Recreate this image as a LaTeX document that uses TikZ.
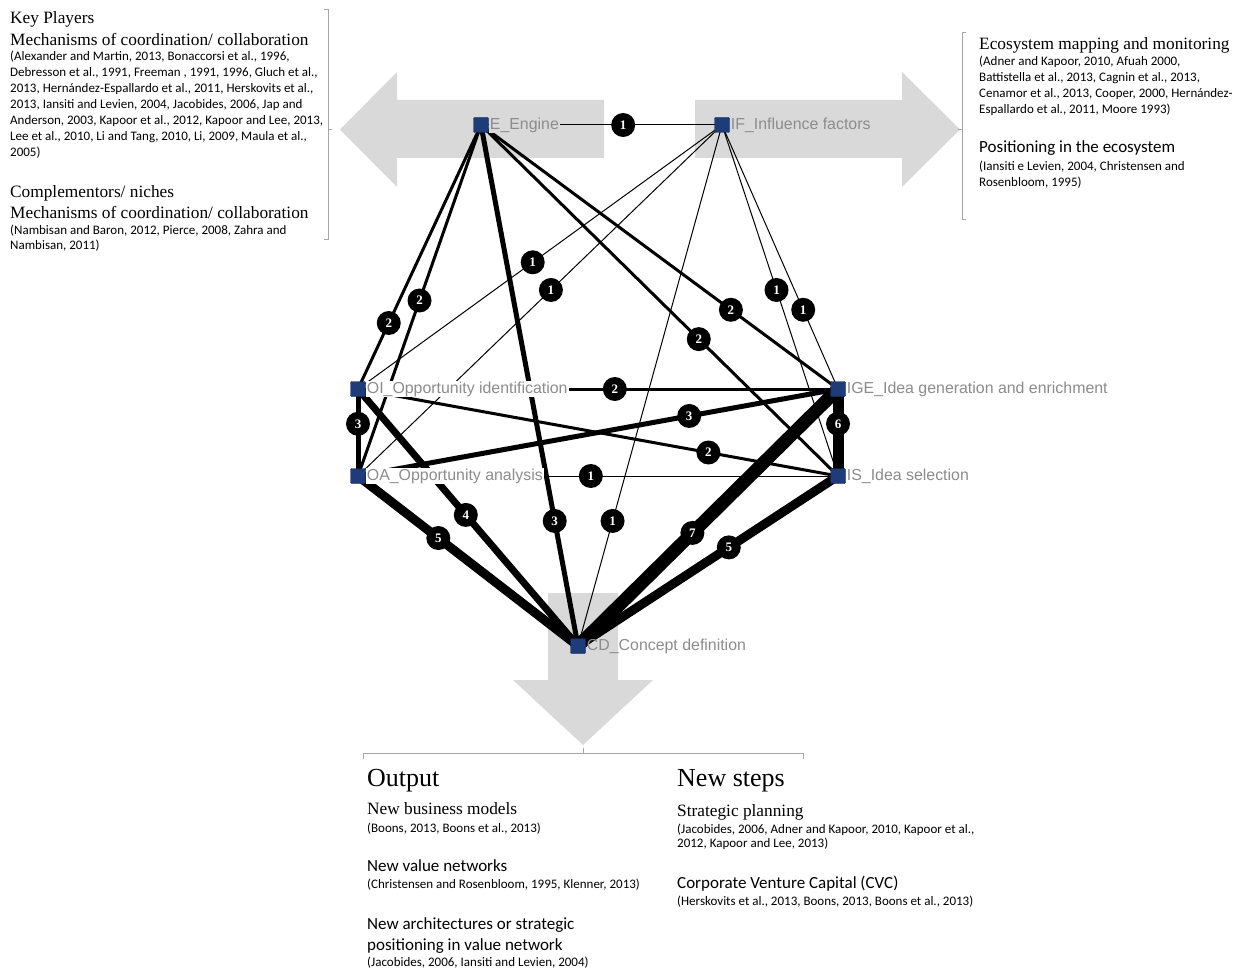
\documentclass[tikz,border=0pt]{standalone}
\usepackage{fontspec}
\setmainfont{Liberation Serif}
\newfontfamily\citefont{Carlito}
\newfontfamily\netfont{Liberation Sans}
\usetikzlibrary{positioning}
\pgfdeclarelayer{back}
\pgfsetlayers{back,main}
\definecolor{arrowgray}{HTML}{D9D9D9}
\definecolor{sqblue}{HTML}{1F3C7A}
\definecolor{labgray}{HTML}{8C8C8C}
\definecolor{brackgray}{HTML}{A6A6A6}
\begin{document}
\begin{tikzpicture}[x=1pt,y=-1pt,
    sq/.style={draw=sqblue!70!black, fill=sqblue, minimum size=15pt, inner sep=0pt, rounded corners=1pt},
    netlab/.style={anchor=west, inner sep=1pt, text=labgray, font=\netfont\fontsize{15.9}{17}\selectfont},
    wlab/.style={circle, fill=black, text=white, inner sep=0pt, minimum size=24pt, font=\bfseries\fontsize{13}{13}\selectfont},
    headserif/.style={anchor=base west, inner sep=0pt, font=\fontsize{17.3}{21}\selectfont},
    headsans/.style={anchor=base west, inner sep=0pt, font=\citefont\fontsize{17}{21}\selectfont},
    cite/.style={anchor=base west, inner sep=0pt, font=\citefont\fontsize{13}{14.5}\selectfont},
    widecite/.style={cite, font=\citefont\fontsize{13}{16}\selectfont},
    bigserif/.style={anchor=base west, inner sep=0pt, font=\fontsize{26}{30}\selectfont},
    brack/.style={draw=brackgray, line width=1pt}]
    \useasboundingbox (0,0) rectangle (1239,968);
    \begin{pgfonlayer}{back}
        \fill[arrowgray] (604,100) -- (397,100) -- (397,72) -- (340,129.5) -- (397,187) -- (397,158) -- (604,158) -- cycle;
        \fill[arrowgray] (695,100) -- (902,100) -- (902,72) -- (960,129.5) -- (902,187) -- (902,158) -- (695,158) -- cycle;
        \fill[arrowgray] (548,593) -- (618,593) -- (618,680) -- (653,680) -- (583,745) -- (513,680) -- (548,680) -- cycle;
        \draw[brack] (324,10) -- (328,10) -- (328,240) -- (324,240) (328,129.5) -- (332,129.5);
        \draw[brack] (966,33) -- (962,33) -- (962,220) -- (966,220) (962,129.5) -- (958,129.5);
        \draw[brack] (363,759) -- (363,753) -- (803,753) -- (803,759) (583,753) -- (583,748);
    \end{pgfonlayer}

    \node[sq] (E) at (481,125) {};
    \node[sq] (IF) at (722,125) {};
    \node[sq] (OI) at (358,389) {};
    \node[sq] (IGE) at (838,389) {};
    \node[sq] (OA) at (358,476) {};
    \node[sq] (IS) at (838,476) {};
    \node[sq] (CD) at (578,646) {};

    \begin{pgfonlayer}{back}
        \foreach \a/\b/\w in {E/IF/1, E/OI/2, E/OA/2, E/CD/3, E/IGE/2, E/IS/2, IF/OI/1, IF/OA/1, IF/CD/1, IF/IS/1, IF/IGE/1,
            OI/IGE/2, OI/OA/3, OI/IS/2, OA/IGE/3, OA/IS/1, OI/CD/4, OA/CD/5, IGE/IS/6, IGE/CD/7, IS/CD/5}
            \draw[line width={1pt+(\w-1)*2pt}] (\a.center) -- (\b.center);
    \end{pgfonlayer}

    \node[netlab, fill=arrowgray] (Elab) at (E.east) {E\_Engine};
    \node[netlab, fill=arrowgray] (IFlab) at (IF.east) {IF\_Influence factors};
    \node[netlab, fill=white] (OIlab) at (OI.east) {OI\_Opportunity identification};
    \node[netlab, fill=white] (IGElab) at (IGE.east) {IGE\_Idea generation and enrichment};
    \node[netlab, fill=white] (OAlab) at (OA.east) {OA\_Opportunity analysis};
    \node[netlab, fill=white] (ISlab) at (IS.east) {IS\_Idea selection};
    \node[netlab] (CDlab) at (CD.east) {CD\_Concept definition};

    \foreach \a/\b/\w/\p in {E/IF/1/0.59, E/OI/2/0.75, E/OA/2/0.5, E/CD/3/0.76, E/IGE/2/0.70, E/IS/2/0.61,
        IF/OI/1/0.52, IF/OA/1/0.47, IF/CD/1/0.76, IF/IS/1/0.47, IF/IGE/1/0.70,
        OI/IGE/2/0.535, OI/OA/3/0.40, OI/IS/2/0.73, OA/IGE/3/0.69, OA/IS/1/0.485,
        OI/CD/4/0.49, OA/CD/5/0.365, IGE/IS/6/0.40, IGE/CD/7/0.56, IS/CD/5/0.42}
        \path (\a.center) -- (\b.center) node[wlab, pos=\p] {\w};

    \node[headserif] (kp) at (10,24) {Key Players};
    \node[headserif] (mech1) at (10,46) {Mechanisms of coordination/ collaboration};
    \node[widecite] (kpref) at (10,61) {\begin{tabular}[t]{@{}l@{}}
        (Alexander and Martin, 2013, Bonaccorsi et al., 1996,\\
        Debresson et al., 1991, Freeman , 1991, 1996, Gluch et al.,\\
        2013, Hernández-Espallardo et al., 2011, Herskovits et al.,\\
        2013, Iansiti and Levien, 2004, Jacobides, 2006, Jap and\\
        Anderson, 2003, Kapoor et al., 2012, Kapoor and Lee, 2013,\\
        Lee et al., 2010, Li and Tang, 2010, Li, 2009, Maula et al.,\\
        2005)\end{tabular}};
    \node[headserif] (comp) at (10,198) {Complementors/ niches};
    \node[headserif] (mech2) at (10,219) {Mechanisms of coordination/ collaboration};
    \node[cite] (compref) at (10,235) {\begin{tabular}[t]{@{}l@{}}
        (Nambisan and Baron, 2012, Pierce, 2008, Zahra and\\
        Nambisan, 2011)\end{tabular}};

    \node[headserif] (eco) at (979,50) {Ecosystem mapping and monitoring};
    \node[widecite] (ecoref) at (979,66) {\begin{tabular}[t]{@{}l@{}}
        (Adner and Kapoor,  2010, Afuah 2000,\\
        Battistella et al., 2013, Cagnin et al., 2013,\\
        Cenamor et al., 2013, Cooper,  2000, Hernández-\\
        Espallardo et al., 2011, Moore 1993)\end{tabular}};
    \node[headsans] (pos) at (979,153) {Positioning in the ecosystem};
    \node[widecite] (posref) at (979,171) {\begin{tabular}[t]{@{}l@{}}
        (Iansiti e Levien, 2004, Christensen and\\
        Rosenbloom, 1995)\end{tabular}};

    \node[bigserif] (out) at (367,786) {Output};
    \node[headserif] (bm) at (367,814) {New business models};
    \node[cite] (bmref) at (367,832) {(Boons, 2013, Boons et al., 2013)};
    \node[headsans] (vn) at (367,871) {New value networks};
    \node[cite] (vnref) at (367,888) {(Christensen and Rosenbloom, 1995, Klenner, 2013)};
    \node[headsans] (arch) at (367,929) {\begin{tabular}[t]{@{}l@{}}
        New architectures or strategic\\
        positioning in value network\end{tabular}};
    \node[cite] (archref) at (367,966) {(Jacobides, 2006,  Iansiti and Levien, 2004)};

    \node[bigserif] (ns) at (677,786) {New steps};
    \node[headserif] (sp) at (677,816) {Strategic planning};
    \node[cite] (spref) at (677,833) {\begin{tabular}[t]{@{}l@{}}
        (Jacobides, 2006, Adner and Kapoor, 2010, Kapoor et al.,\\
        2012, Kapoor and Lee, 2013)\end{tabular}};
    \node[headsans] (cvc) at (677,888) {Corporate Venture Capital (CVC)};
    \node[cite] (cvcref) at (677,905) {(Herskovits et al., 2013, Boons, 2013, Boons et al., 2013)};
\end{tikzpicture}
\end{document}
